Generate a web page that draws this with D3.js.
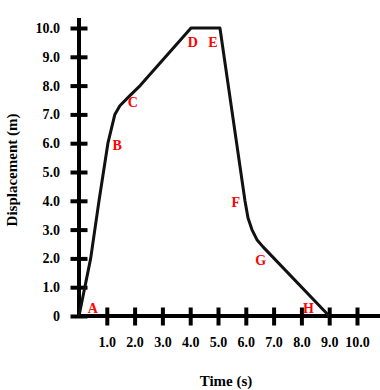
<!DOCTYPE html>
<html><head><meta charset="utf-8">
<script src="https://cdn.jsdelivr.net/npm/d3@7"></script>
<style>body{margin:0;background:#fff}</style>
</head><body>
<script>
const time = [0, 0.42, 0.72, 1.04, 1.29, 1.47, 1.83, 2.2, 4.03, 5.07, 5.97, 6.08, 6.22, 6.4, 6.62, 9.0];
const displacement = [0, 2.0, 4.0, 6.0, 7.0, 7.3, 7.65, 8.0, 10.0, 10.0, 4.0, 3.4, 3.0, 2.65, 2.4, 0];
const pointLetters = ["A","B","C","D","E","F","G","H"];
const letterTime = [0.5, 1.37, 1.94, 4.09, 4.82, 5.64, 6.54, 8.25];
const letterDisp = [0.28, 5.94, 7.43, 9.52, 9.52, 3.97, 1.94, 0.27];
const xTicks = [1,2,3,4,5,6,7,8,9,10];
const yTicks = [0,1,2,3,4,5,6,7,8,9,10];
const xLabel = "Time (s)";
const yLabel = "Displacement (m)";

const W = 380, H = 390;
const svg = d3.select("body").append("svg").attr("width", W).attr("height", H);
const x = d3.scaleLinear().domain([0,10]).range([79,357]);
const y = d3.scaleLinear().domain([0,10]).range([316,28]);
const font = "'Liberation Serif','Times New Roman',serif";

// axes lines
svg.append("line").attr("x1", x(0)).attr("x2", 380).attr("y1", y(0)).attr("y2", y(0))
  .attr("stroke","#000").attr("stroke-width",4);
svg.append("line").attr("x1", x(0)).attr("x2", x(0)).attr("y1", 18).attr("y2", y(0)+2)
  .attr("stroke","#000").attr("stroke-width",4);

const xAxis = svg.append("g").attr("transform",`translate(0,${y(0)})`)
  .call(d3.axisBottom(x).tickValues(xTicks).tickFormat(d=>d.toFixed(1)).tickSize(9).tickPadding(12.5));
xAxis.select(".domain").remove();
xAxis.selectAll(".tick line").attr("y1",-8.5).attr("y2",9.5).attr("stroke","#000").attr("stroke-width",4);
xAxis.selectAll(".tick text").attr("font-family",font).attr("font-weight","bold").attr("font-size",14).attr("fill","#000");

const yAxis = svg.append("g").attr("transform",`translate(${x(0)},0)`)
  .call(d3.axisLeft(y).tickValues(yTicks).tickFormat(d=>d===0?"0":d.toFixed(1)).tickSize(9).tickPadding(10));
yAxis.select(".domain").remove();
yAxis.selectAll(".tick line").attr("x1",-8.5).attr("x2",8.5).attr("stroke","#000").attr("stroke-width",4);
yAxis.selectAll(".tick text").attr("font-family",font).attr("font-weight","bold").attr("font-size",14).attr("fill","#000");

// curve
const pts = time.map((t,i)=>[t, displacement[i]]);
svg.append("path").datum(pts)
  .attr("d", d3.line().x(d=>x(d[0])).y(d=>y(d[1])))
  .attr("fill","none").attr("stroke","#111").attr("stroke-width",3).attr("stroke-linejoin","round");

// letters
svg.selectAll("text.pt").data(pointLetters).enter().append("text")
  .attr("class","pt")
  .attr("x",(d,i)=>x(letterTime[i])).attr("y",(d,i)=>y(letterDisp[i]))
  .attr("dy","0.35em").attr("text-anchor","middle")
  .attr("font-family",font).attr("font-weight","bold").attr("font-size",14).attr("fill","#f00")
  .text(d=>d);

// titles
svg.append("text").attr("x",226).attr("y",386).attr("text-anchor","middle")
  .attr("font-family",font).attr("font-weight","bold").attr("font-size",15).text(xLabel);
svg.append("text").attr("transform","translate(16.5,170) rotate(-90)").attr("text-anchor","middle")
  .attr("font-family",font).attr("font-weight","bold").attr("font-size",15).text(yLabel);
</script>
</body></html>
